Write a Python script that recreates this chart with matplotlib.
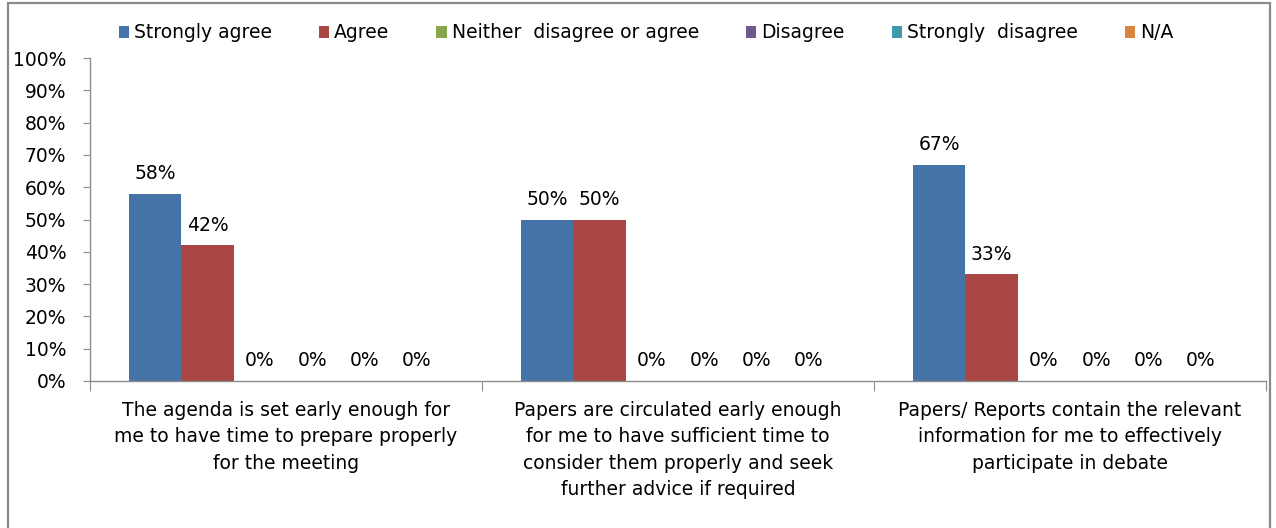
import matplotlib
matplotlib.use("Agg")
import matplotlib.pyplot as plt
import matplotlib.patches as patches
import numpy as np

# survey responses, percent of respondents
categories = [
    "The agenda is set early enough for\nme to have time to prepare properly\nfor the meeting",
    "Papers are circulated early enough\nfor me to have sufficient time to\nconsider them properly and seek\nfurther advice if required",
    "Papers/ Reports contain the relevant\ninformation for me to effectively\nparticipate in debate",
]
series_names = ["Strongly agree", "Agree", "Neither  disagree or agree",
                "Disagree", "Strongly  disagree", "N/A"]
strongly_agree = [58, 50, 67]
agree = [42, 50, 33]
neither = [0, 0, 0]
disagree = [0, 0, 0]
strongly_disagree = [0, 0, 0]
not_applicable = [0, 0, 0]
y_ticks = [0, 10, 20, 30, 40, 50, 60, 70, 80, 90, 100]

series = [strongly_agree, agree, neither, disagree, strongly_disagree, not_applicable]
colors = ["#4572A7", "#AA4643", "#89A54E", "#71588F", "#4198AF", "#DB843D"]

plt.rcParams['font.family'] = ['DejaVu Sans']
FS = 13.5
W, H = 1276, 528

fig = plt.figure(figsize=(W / 100, H / 100), dpi=100)
fig.patch.set_facecolor("white")

# outer chart frame
frame = patches.Rectangle((8 / W, -0.05), (1270 - 8) / W, 1.05 - 3 / H,
                          transform=fig.transFigure, fill=False,
                          edgecolor="#8a8a8a", linewidth=1.6)
fig.add_artist(frame)

ax = fig.add_axes([90 / W, 1 - 381 / H, (1266 - 90) / W, (381 - 58) / H])

n = len(series)
width = 1.0 / (n + 1.5)
x = np.arange(len(categories))

for j, (vals, name, c) in enumerate(zip(series, series_names, colors)):
    pos = x + (j - (n - 1) / 2) * width
    ax.bar(pos, vals, width=width, color=c, label=name, linewidth=0)
    for p, v in zip(pos, vals):
        ax.annotate(f"{v}%", (p, v), xytext=(0, 14.4), textcoords="offset points",
                    ha="center", va="center", fontsize=FS, color="#000000")

ax.set_xlim(-0.5, len(categories) - 0.5)
ax.set_ylim(0, 100)

for s in ["top", "right"]:
    ax.spines[s].set_visible(False)
for s in ["left", "bottom"]:
    ax.spines[s].set_color("#8c8c8c")
    ax.spines[s].set_linewidth(1.0)

ax.set_yticks(y_ticks)
ax.set_yticklabels([f"{t}%" for t in y_ticks], fontsize=FS)
ax.tick_params(axis="y", direction="out", length=5, color="#8c8c8c", pad=12)

# category separators as major ticks, labels as minor ticks
ax.set_xticks(np.arange(len(categories) + 1) - 0.5)
ax.set_xticklabels([])
ax.tick_params(axis="x", which="major", direction="out", length=7, color="#8c8c8c")
ax.set_xticks(x, minor=True)
ax.set_xticklabels(categories, minor=True, fontsize=FS, linespacing=1.48)
ax.tick_params(axis="x", which="minor", length=0, pad=14.5)

handles, labels = ax.get_legend_handles_labels()
fig.legend(handles, labels, loc="center", ncol=6, frameon=False,
           bbox_to_anchor=(646 / W, 1 - 33 / H), fontsize=FS,
           handlelength=0.55, handleheight=0.55, handletextpad=0.27,
           columnspacing=2.5)

fig.savefig("out.png", dpi=100)
